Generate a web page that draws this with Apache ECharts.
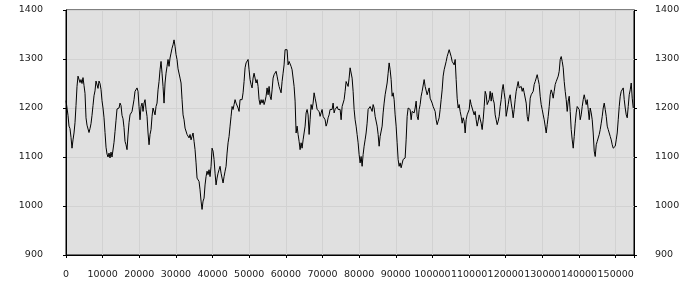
<!DOCTYPE html>
<html>
<head>
<meta charset="utf-8">
<script src="https://cdn.jsdelivr.net/npm/echarts@6/dist/echarts.min.js"></script>
<style>
html,body{margin:0;padding:0;background:#fff;}
#chart{width:700px;height:300px;}
</style>
</head>
<body>
<div id="chart"></div>
<script>
// Sample spacing along the x axis
const STEP = 273;
// Series values (one sample every STEP units)
const values = [
1215,1200,1185,1163,1158,1140,1118,1135,1149,1170,
1205,1244,1265,1265,1252,1258,1250,1262,1246,1230,
1180,1165,1166,1150,1158,1168,1185,1205,1225,1235,
1255,1258,1240,1255,1250,1238,1215,1200,1180,1150,
1120,1106,1100,1108,1098,1110,1100,1096,1130,1152,
1175,1198,1202,1200,1210,1205,1185,1178,1160,1132,
1125,1115,1145,1170,1186,1183,1193,1197,1217,1234,
1237,1241,1234,1203,1176,1203,1210,1193,1210,1217,
1197,1183,1149,1125,1146,1156,1183,1200,1203,1186,
1203,1210,1237,1254,1278,1295,1271,1244,1210,1251,
1271,1285,1299,1285,1302,1312,1322,1329,1339,1326,
1309,1299,1280,
1278,1261,1251,1217,1186,1176,1159,1156,1146,1149,
1139,1146,1135,1142,1149,1132,1115,1088,1057,1054,
1050,1033,1010,993,1010,1016,1043,1060,1071,1064,
1074,1060,1081,1118,1112,1095,1067,1043,1057,1067,
1074,1081,1067,1057,1047,1060,1071,1081,1108,1129,
1142,1163,1183,1203,1197,1207,1217,1210,1214,1200,
1193,1217,1220,1217,1231,1254,1282,1292,1295,1299,
1278,1258,1248,1241,1261,1271,1268,1251,1258,1244,
1217,1207,1217,1210,1217,1207,1214,1224,1241,1227,
1244,1224,1217,1237,1261,1268,1265,1275,1265,1254,
1244,1241,1231,1254,1271,1288,1319,1322,1319,1288,
1295,1292,1285,1278,
1278,1244,1214,1149,1163,1146,1132,1115,1129,1118,
1135,1149,1163,1190,1197,1186,1146,1176,1207,1197,
1210,1231,1220,1210,1197,1200,1193,1183,1190,1197,
1183,1186,1176,1163,1169,1180,1186,1197,1200,1197,
1210,1190,1197,1200,1203,1197,1200,1197,1176,1203,
1207,1217,1234,1254,1251,1244,1261,1282,1285,1261,
1234,1197,1176,1163,1146,1129,1105,1088,1101,1081,
1105,1122,1135,1149,1169,1197,1200,1203,1207,1193,
1207,1200,1183,1180,1163,1146,1122,1142,1146,1163,
1190,1210,1227,1231,1251,1271,1292,1278,1258,1224,
1231,1217,1186,1163,1129,1095,1081,1088,1078,1074,
1095,1098,1098,1135,
1183,1200,1203,1197,1176,1193,1197,1190,1200,1214,
1183,1176,1197,1207,1224,1234,1231,1258,1244,1248,
1227,1234,1241,1220,1217,1210,1203,1207,1193,1176,
1166,1173,1180,1197,1217,1237,1265,1278,1282,1295,
1305,1312,1319,1322,1305,1295,1299,1288,1299,1258,
1220,1200,1207,1193,1183,1169,1180,1173,1149,1176,
1186,1190,1197,1217,1207,1200,1203,1186,1193,1176,
1163,1173,1186,1190,1169,1156,1176,1203,1234,1227,
1207,1203,1217,1234,1214,1231,1217,1210,1186,1176,
1166,1173,1183,1203,1217,1237,1248,1231,1217,1183,
1186,1207,1220,1227,1210,1197,1180,1197,1217,1234,
1244,1254,1241,1237,
1244,1234,1241,1231,1227,1210,1183,1173,1190,1220,
1227,1224,1234,1248,1254,1261,1268,1258,1248,1224,
1207,1197,1186,1176,1163,1149,1166,1183,1203,1227,
1237,1231,1220,1234,1248,1254,1258,1265,1275,1299,
1305,1295,1282,1254,1234,1217,1193,1214,1224,1193,
1156,1135,1118,1142,1169,1190,1203,1207,1197,1176,
1186,1203,1217,1227,1217,1207,1217,1197,1176,1200,
1190,1176,1149,1112,1101,1125,1132,1129,1146,1156,
1169,1183,1200,1210,1197,1183,1163,1156,1149,1142,
1135,1125,1118,1115,1122,1135,1149,1176,1203,1224,
1234,1237,1241,1217,1200,1186,1180,1203,1227,1237,
1251,1220,1200
];
// Axis ranges / ticks
const xRange = [0, 155000];
const xInterval = 10000;
const yRange = [900, 1400];
const yInterval = 100;

const data = values.map((v, i) => [i * STEP, v]);

const labelFont = {fontFamily: 'DejaVu Sans', fontSize: 9.5, color: '#222'};
const yFmt = v => String(v);
const chart = echarts.init(document.getElementById('chart'), null, {renderer: 'canvas'});
chart.setOption({
  animation: false,
  backgroundColor: '#ffffff',
  grid: {left: 66, right: 66, top: 10, bottom: 45, show: true,
         backgroundColor: '#e0e0e0', borderColor: '#000', borderWidth: 1},
  xAxis: {
    type: 'value', min: xRange[0], max: xRange[1], interval: xInterval,
    axisLine: {show: true, lineStyle: {color: '#000', width: 1}},
    axisTick: {show: true, length: 3, lineStyle: {color: '#000'}},
    splitLine: {show: true, lineStyle: {color: '#d2d2d2', width: 1}},
    axisLabel: Object.assign({margin: 15, formatter: v => (v % xInterval === 0 ? String(v) : '')}, labelFont)
  },
  yAxis: [{
    type: 'value', position: 'left', min: yRange[0], max: yRange[1], interval: yInterval,
    axisLine: {show: true, lineStyle: {color: '#000', width: 1}},
    axisTick: {show: true, length: 3, lineStyle: {color: '#000'}},
    splitLine: {show: true, lineStyle: {color: '#d2d2d2', width: 1}},
    axisLabel: Object.assign({margin: 23, formatter: yFmt}, labelFont)
  }, {
    type: 'value', position: 'right', min: yRange[0], max: yRange[1], interval: yInterval,
    axisLine: {show: true, lineStyle: {color: '#000', width: 1}},
    axisTick: {show: true, length: 3, lineStyle: {color: '#000'}},
    splitLine: {show: false},
    axisLabel: Object.assign({margin: 21, formatter: yFmt}, labelFont)
  }],
  series: [{
    type: 'line', data: data, xAxisIndex: 0, yAxisIndex: 0,
    showSymbol: false, symbol: 'none', smooth: false,
    lineStyle: {color: '#000', width: 1},
    emphasis: {disabled: true}
  }]
});
</script>
</body>
</html>
